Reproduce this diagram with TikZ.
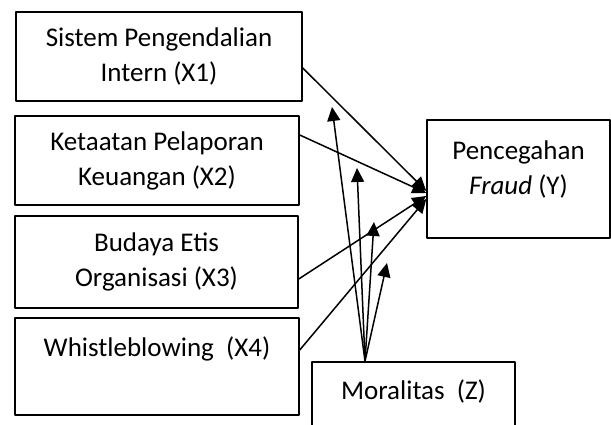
\documentclass[tikz,border=0pt]{standalone}
\usepackage{fontspec}
\setmainfont{Carlito}
\usetikzlibrary{arrows.meta}

\begin{document}
\begin{tikzpicture}[line cap=round,line join=round,>={Triangle[length=14pt,width=13pt]},x=1pt,y=1pt]
\tikzset{kotak/.style={draw, line width=1.5pt, align=center, inner sep=0pt, font=\fontsize{27}{35}\selectfont}}
\useasboundingbox (0,0) rectangle (611,425);
\clip (0,0) rectangle (611,425);
% variabel bebas
\node[kotak, minimum width=286, minimum height=89] (x1) at (159,368.5) {Sistem Pengendalian\\Intern (X1)};
\node[kotak, minimum width=284, minimum height=89] (x2) at (157,264.5) {Ketaatan Pelaporan\\Keuangan (X2)};
\node[kotak, minimum width=283, minimum height=92] (x3) at (156.5,163) {Budaya Etis\\Organisasi (X3)};
\node[kotak, minimum width=284, minimum height=97] (x4) at (157,58.5) {Whistleblowing~~(X4)\\[4pt]\mbox{}};
% variabel terikat dan moderasi
\node[kotak, minimum width=183, minimum height=118] (y) at (518.5,246) {Pencegahan\\\textit{Fraud} (Y)\\[-13pt]\mbox{}};
\node[kotak, minimum width=203, minimum height=90] (z) at (413.5,18) {Moralitas~~(Z)\\\mbox{}};
\coordinate (z0) at ([xshift=-48.5pt]z.north);
\coordinate (m1) at (332,318);
\coordinate (m2) at (357,257);
\coordinate (m3) at (374,203);
\coordinate (m4) at (387,162);
% panah
\draw [line width=1.5pt,->] ([yshift=-11.5pt]x1.east) -- ([yshift=-12pt]y.west);
\draw [line width=1.5pt,->] ([yshift=25.5pt]x2.east) -- ([yshift=-14pt]y.west);
\draw [line width=1.5pt,->] ([yshift=-17pt]x3.east) -- ([yshift=-17pt]y.west);
\draw [line width=1.5pt,->] ([yshift=16.5pt]x4.east) -- ([yshift=-20pt]y.west);
\draw [line width=1.5pt,->] (z0) -- (m1);
\draw [line width=1.5pt,->] (z0) -- (m2);
\draw [line width=1.5pt,->] (z0) -- (m3);
\draw [line width=1.5pt,->] (z0) -- (m4);
\end{tikzpicture}
\end{document}
